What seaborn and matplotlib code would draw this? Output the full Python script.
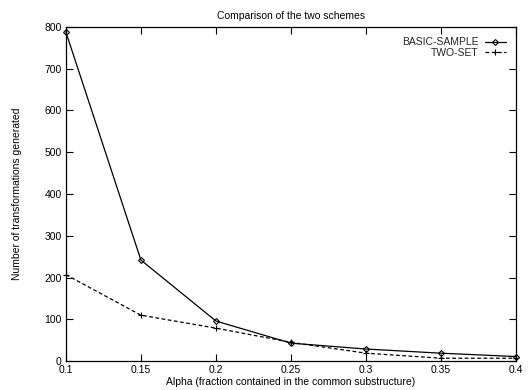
import matplotlib
matplotlib.use("Agg")
import matplotlib.pyplot as plt
import seaborn as sns
import pandas as pd
from matplotlib.lines import Line2D

alpha = [0.1, 0.15, 0.2, 0.25, 0.3, 0.35, 0.4]
basic_sample = [788, 242, 96, 43, 29, 19, 11]
two_set = [207, 110, 79, 45, 19, 7, 7]
x_ticks = [0.1, 0.15, 0.2, 0.25, 0.3, 0.35, 0.4]
x_tick_labels = ["0.1", "0.15", "0.2", "0.25", "0.3", "0.35", "0.4"]
y_ticks = [0, 100, 200, 300, 400, 500, 600, 700, 800]

sns.set_style("ticks")
plt.rcParams['font.family'] = ['Liberation Sans', 'DejaVu Sans']

df_basic = pd.DataFrame({"alpha": alpha, "value": basic_sample})
df_two = pd.DataFrame({"alpha": alpha, "value": two_set})

fig = plt.figure(figsize=(5.31, 3.90), dpi=100)
ax = fig.add_axes([0.124, 0.074, 0.848, 0.857])

sns.lineplot(data=df_basic, x="alpha", y="value", color="black", linewidth=0.9,
             marker="D", markersize=3, markerfacecolor="none",
             markeredgecolor="black", markeredgewidth=0.8, ax=ax, clip_on=False)
sns.lineplot(data=df_two, x="alpha", y="value", color="black", linewidth=0.9,
             linestyle=(0, (3, 2)), marker="+", markersize=5,
             markeredgecolor="black", markeredgewidth=0.8, ax=ax, clip_on=False)

ax.set_xlim(0.1, 0.4)
ax.set_ylim(0, 800)
ax.set_xticks(x_ticks)
ax.set_xticklabels(x_tick_labels)
ax.set_yticks(y_ticks)
ax.tick_params(direction="in", length=5, width=0.8, color="black", labelcolor="black",
               labelsize=7.5, top=True, right=True, pad=3)
for s in ax.spines.values():
    s.set_visible(True)
    s.set_linewidth(0.9)
    s.set_color("black")

ax.set_title("Comparison of the two schemes", fontsize=7.5, pad=6, color="black")
ax.set_xlabel("Alpha (fraction contained in the common substructure)", fontsize=7.5,
              labelpad=1, color="black")
ax.set_ylabel("Number of transformations generated", fontsize=7.5, labelpad=16,
              color="black")

handles = [
    Line2D([], [], color="black", lw=0.9, marker="D", markersize=3,
           markerfacecolor="none", markeredgewidth=0.8),
    Line2D([], [], color="black", lw=0.9, ls=(0, (3, 2)), marker="+", markersize=4,
           markeredgewidth=0.8),
]
ax.legend(handles, ["BASIC-SAMPLE", "TWO-SET"], loc="upper right", frameon=False,
          markerfirst=False, fontsize=7.5, handlelength=2.0, handletextpad=0.6,
          labelspacing=0.05, borderaxespad=0.6)

fig.savefig("out.png", dpi=100)
